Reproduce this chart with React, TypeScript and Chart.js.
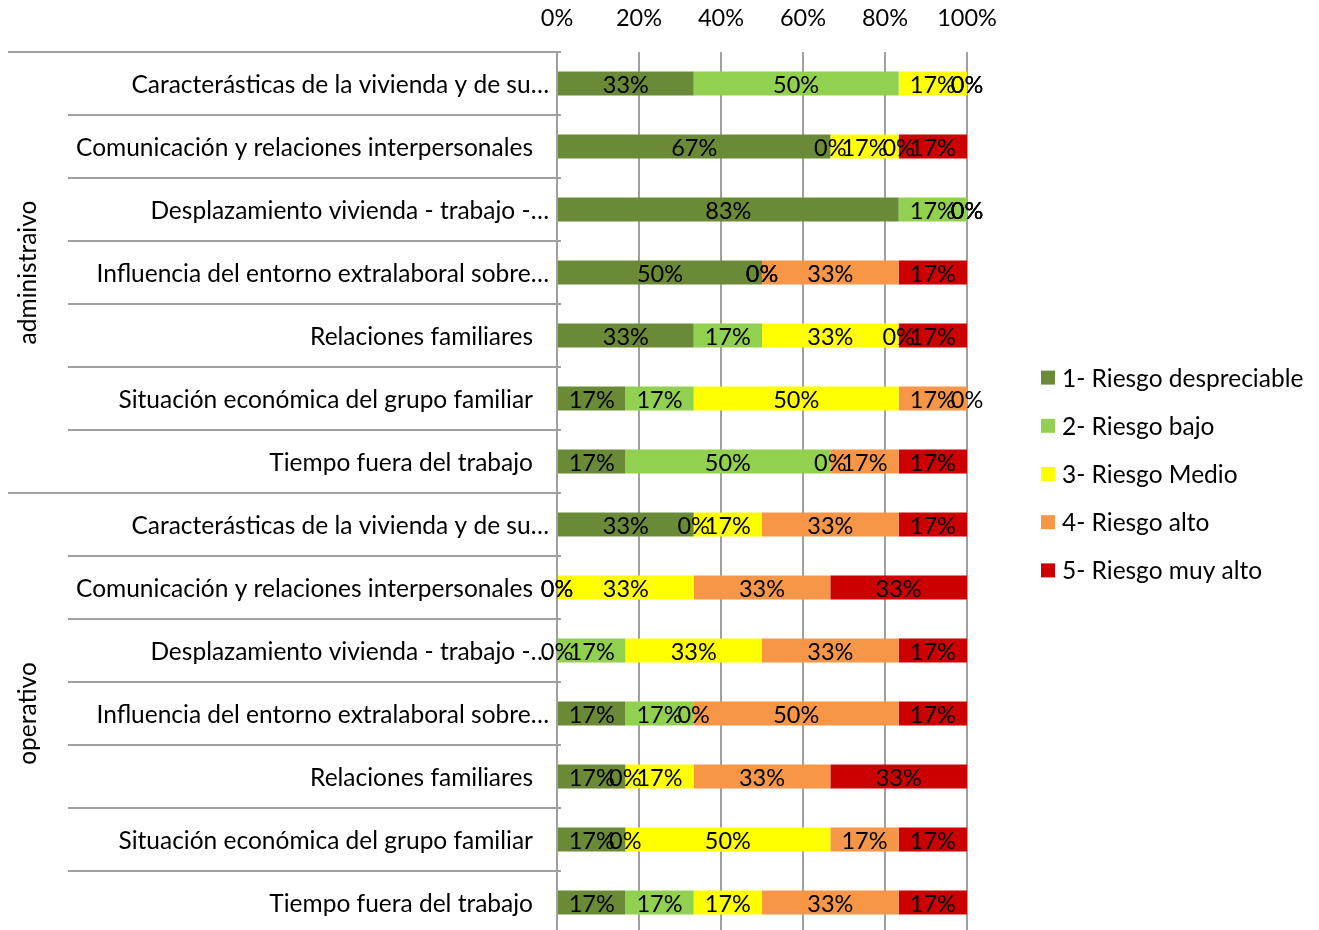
import React, { useEffect, useRef } from 'react';
import { Chart, registerables } from 'chart.js';

Chart.register(...registerables);

const categories = [
  'Caracterásticas de la vivienda y de su…',
  'Comunicación y relaciones interpersonales',
  'Desplazamiento vivienda - trabajo -…',
  'Influencia del entorno extralaboral sobre…',
  'Relaciones familiares',
  'Situación económica del grupo familiar',
  'Tiempo fuera del trabajo',
  'Caracterásticas de la vivienda y de su…',
  'Comunicación y relaciones interpersonales',
  'Desplazamiento vivienda - trabajo -…',
  'Influencia del entorno extralaboral sobre…',
  'Relaciones familiares',
  'Situación económica del grupo familiar',
  'Tiempo fuera del trabajo',
];

const groupNames = ['administraivo', 'operativo'];
const groupSizes = [7, 7];

const seriesNames = [
  '1- Riesgo despreciable',
  '2- Riesgo bajo',
  '3- Riesgo Medio',
  '4- Riesgo alto',
  '5- Riesgo muy alto',
];
const seriesColors = ['#6b8a38', '#92d050', '#ffff00', '#f79646', '#cc0000'];

const riesgo1 = [33.33, 66.67, 83.33, 50, 33.33, 16.67, 16.67, 33.33, 0, 0, 16.67, 16.67, 16.67, 16.67];
const riesgo2 = [50, 0, 16.67, 0, 16.67, 16.67, 50, 0, 0, 16.67, 16.67, 0, 0, 16.67];
const riesgo3 = [16.67, 16.67, 0, 0, 33.33, 50, 0, 16.67, 33.33, 33.33, 0, 16.67, 50, 16.67];
const riesgo4 = [0, 0, 0, 33.33, 0, 16.67, 16.67, 33.33, 33.33, 33.33, 50, 33.33, 16.67, 33.33];
const riesgo5 = [0, 16.67, 0, 16.67, 16.67, 0, 16.67, 16.67, 33.33, 16.67, 16.67, 33.33, 16.67, 16.67];

const seriesValues = [riesgo1, riesgo2, riesgo3, riesgo4, riesgo5];

const xTickValues = [0, 20, 40, 60, 80, 100];

const FONT = 'Lato';
const TEXT_SIZE = 24.5;
const NUM_SIZE = 23.5;
const LINE_COLOR = '#a0a0a0';

const decorPlugin = {
  id: 'decor',
  afterDatasetsDraw(chart: any) {
    const ctx = chart.ctx;
    ctx.save();
    ctx.font = `${NUM_SIZE}px ${FONT}`;
    ctx.fillStyle = '#000';
    ctx.textAlign = 'center';
    ctx.textBaseline = 'middle';
    chart.data.datasets.forEach((ds: any, di: number) => {
      const meta = chart.getDatasetMeta(di);
      meta.data.forEach((el: any, i: number) => {
        const v = ds.data[i];
        const p = el.getProps(['x', 'y', 'base'], true);
        ctx.fillText(Math.round(v) + '%', (p.x + p.base) / 2, p.y + 2);
      });
    });
    ctx.restore();
  },
  afterDraw(chart: any) {
    const ctx = chart.ctx;
    const ca = chart.chartArea;
    const ys = chart.scales.y;
    const n = categories.length;
    const step = ys.getPixelForValue(1) - ys.getPixelForValue(0);
    ctx.save();

    // separators
    const groupBounds: number[] = [0];
    groupSizes.reduce((acc, s) => {
      groupBounds.push(acc + s);
      return acc + s;
    }, 0);
    ctx.strokeStyle = LINE_COLOR;
    ctx.lineWidth = 2;
    for (let k = 0; k <= n; k++) {
      const yy = Math.round(ys.getPixelForValue(k) - step / 2);
      const isGroup = groupBounds.includes(k);
      ctx.beginPath();
      ctx.moveTo(isGroup ? 0 : 60, yy);
      ctx.lineTo(ca.left + 4, yy);
      ctx.stroke();
    }

    // category labels
    ctx.font = `${TEXT_SIZE}px ${FONT}`;
    ctx.fillStyle = '#000';
    ctx.textAlign = 'right';
    ctx.textBaseline = 'middle';
    categories.forEach((c, i) => {
      const yy = ys.getPixelForValue(i);
      const truncated = c.endsWith('…');
      ctx.fillText(c, ca.left - (truncated ? 8 : 24), yy + 2);
    });

    // group labels
    ctx.textAlign = 'center';
    groupNames.forEach((g, gi) => {
      const a = groupBounds[gi];
      const b = groupBounds[gi + 1];
      const yc = (ys.getPixelForValue(a) + ys.getPixelForValue(b - 1)) / 2;
      ctx.save();
      ctx.translate(20, yc);
      ctx.rotate(-Math.PI / 2);
      ctx.fillText(g, 0, 0);
      ctx.restore();
    });

    // legend
    const gap = 48.2;
    const startY = (chart.height - (seriesNames.length - 1) * gap) / 2 + 3;
    const bx = ca.right + 74;
    ctx.textAlign = 'left';
    seriesNames.forEach((s, i) => {
      const yy = startY + i * gap;
      ctx.fillStyle = seriesColors[i];
      ctx.fillRect(bx, yy - 7, 14, 14);
      ctx.fillStyle = '#000';
      ctx.fillText(s, bx + 21, yy + 1);
    });

    ctx.restore();
  },
};

export default function App() {
  const ref = useRef<HTMLCanvasElement>(null);

  useEffect(() => {
    document.documentElement.style.overflow = 'hidden';
    document.body.style.overflow = 'hidden';
    const chart = new Chart(ref.current!, {
      type: 'bar',
      data: {
        labels: categories,
        datasets: seriesNames.map((name, i) => ({
          label: name,
          data: seriesValues[i],
          backgroundColor: seriesColors[i],
          borderWidth: 0,
          barPercentage: 1,
          categoryPercentage: 0.38,
        })),
      },
      options: {
        indexAxis: 'y',
        animation: false,
        responsive: true,
        maintainAspectRatio: false,
        layout: { padding: { right: 344, top: 0, bottom: 0, left: 0 } },
        plugins: {
          legend: { display: false },
          tooltip: { enabled: false },
        },
        scales: {
          x: {
            position: 'top',
            stacked: true,
            min: 0,
            max: 100,
            afterBuildTicks: (s: any) => {
              s.ticks = xTickValues.map((v) => ({ value: v }));
            },
            afterFit: (s: any) => {
              s.height = 44;
            },
            ticks: {
              callback: (v: any) => v + '%',
              color: '#000',
              font: { family: FONT, size: NUM_SIZE },
              padding: 19,
              maxRotation: 0,
            },
            grid: { color: LINE_COLOR, lineWidth: 2, drawTicks: false },
            border: { display: false },
          },
          y: {
            stacked: true,
            afterFit: (s: any) => {
              s.width = 549;
            },
            ticks: { display: false },
            grid: { display: false, drawTicks: false },
            border: { display: true, color: LINE_COLOR, width: 2 },
          },
        },
      },
      plugins: [decorPlugin],
    });
    return () => chart.destroy();
  }, []);

  return (
    <div style={{ width: 1303, height: 926, position: 'relative' }}>
      <canvas ref={ref} />
    </div>
  );
}
